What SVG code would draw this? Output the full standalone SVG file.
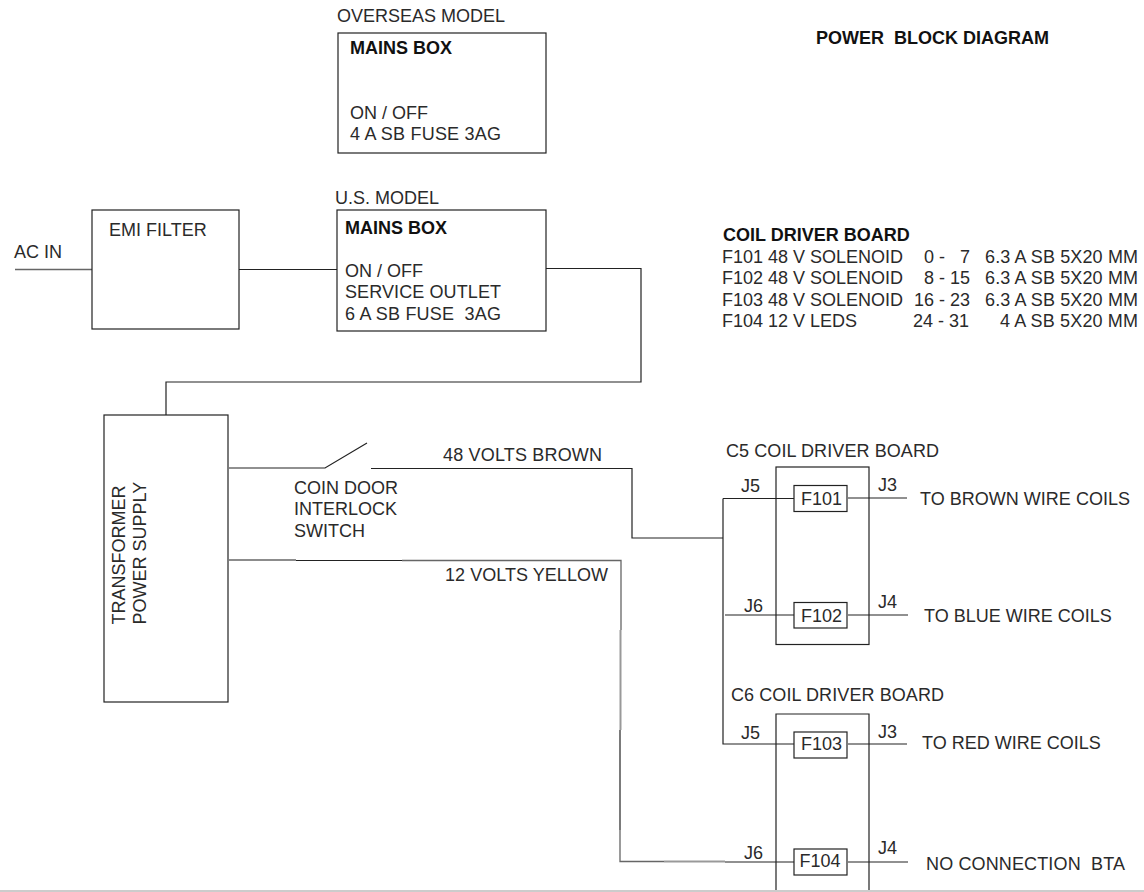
<svg xmlns="http://www.w3.org/2000/svg" width="1144" height="892" viewBox="0 0 1144 892">
<style>
text{font-family:"Liberation Sans",Arial,sans-serif;font-size:18px;fill:#2a2a2a}
.b{font-weight:bold;fill:#111}
.box{fill:#fff;stroke:#222;stroke-width:1.2}
.w{fill:none;stroke:#222;stroke-width:1.2}
.m{fill:none;stroke:#666;stroke-width:1.3}
.g{fill:none;stroke:#999;stroke-width:2}
</style>
<rect width="1144" height="892" fill="#fff"/>
<g id="connectors">
<path class="m" d="M15 269.500H92"/>
<path class="w" d="M239 269.500H337M546 268.500H641V382H166V415"/>
<path class="w" d="M229 468H325L367 443M371 468.500H632V538H723"/>
<path class="w" d="M723 498.500V744H795M723 498.500H795M725 615H795"/>
<path class="m" d="M229 560H296"/><path class="w" d="M296 560.500H402"/><path class="m" d="M402 560.500H621V630"/>
<path class="g" d="M620.500 630V730"/><path class="w" d="M620 730V830"/><path class="m" d="M620 830V861.500H664"/><path class="g" d="M664 861.500H725"/><path class="w" d="M725 862H795"/>
<path class="w" d="M848 498H907M848 615H908M848 744H907M848 862H908"/>
</g>
<g id="title"><text class="b" x="816" y="44" xml:space="preserve">POWER  BLOCK DIAGRAM</text></g>
<g id="overseas-mains"><text x="337" y="22">OVERSEAS MODEL</text><rect class="box" x="338" y="33" width="208" height="120"/><text class="b" x="350" y="54">MAINS BOX</text><text x="350" y="119">ON / OFF</text><text x="350" y="140" textLength="151">4 A SB FUSE 3AG</text></g>
<g id="emi-filter"><rect class="box" x="92" y="210" width="147" height="119"/><text x="109" y="236">EMI FILTER</text></g>
<g id="ac-in"><text x="14" y="258">AC IN</text></g>
<g id="us-mains"><text x="335" y="204">U.S. MODEL</text><rect class="box" x="337" y="210" width="209" height="121"/><text class="b" x="345" y="234">MAINS BOX</text><text x="345" y="277">ON / OFF</text><text x="345" y="298" textLength="156">SERVICE OUTLET</text><text x="345" y="320" xml:space="preserve" textLength="156">6 A SB FUSE  3AG</text></g>
<g id="fuse-table"><text class="b" x="723" y="241">COIL DRIVER BOARD</text>
<text x="722" y="263">F101 48 V SOLENOID</text><text x="924" y="263" xml:space="preserve">0 -   7</text><text x="985" y="263" textLength="153">6.3 A SB 5X20 MM</text>
<text x="722" y="284">F102 48 V SOLENOID</text><text x="924" y="284" xml:space="preserve">8 - 15</text><text x="985" y="284" textLength="153">6.3 A SB 5X20 MM</text>
<text x="722" y="306">F103 48 V SOLENOID</text><text x="914" y="306">16 - 23</text><text x="985" y="306" textLength="153">6.3 A SB 5X20 MM</text>
<text x="722" y="327">F104 12 V LEDS</text><text x="913" y="327">24 - 31</text><text x="1000" y="327" textLength="138">4 A SB 5X20 MM</text></g>
<g id="transformer"><rect class="box" x="104" y="415" width="124" height="287"/><text transform="translate(125 624.500) rotate(-90)">TRANSFORMER</text><text transform="translate(146 624.500) rotate(-90)">POWER SUPPLY</text></g>
<g id="switch"><text x="294" y="494">COIN DOOR</text><text x="294" y="515">INTERLOCK</text><text x="294" y="537">SWITCH</text></g>
<g id="wire-labels"><text x="443" y="461" textLength="159">48 VOLTS BROWN</text><text x="445" y="581" textLength="163">12 VOLTS YELLOW</text></g>
<g id="c5"><text x="726" y="457" textLength="213">C5 COIL DRIVER BOARD</text><rect class="w" x="776" y="467" width="93" height="177.500"/></g>
<g id="c6"><text x="731" y="701" textLength="213">C6 COIL DRIVER BOARD</text><path class="w" d="M776 891V714H869V891"/></g>
<g id="f101"><rect class="box" x="794" y="485.500" width="53" height="26"/><text x="801" y="505">F101</text></g>
<g id="f102"><rect class="box" x="794" y="602.500" width="53" height="25.500"/><text x="801" y="622">F102</text></g>
<g id="f103"><rect class="box" x="794" y="732" width="53" height="26"/><text x="801" y="750">F103</text></g>
<g id="f104"><rect class="box" x="794" y="849" width="53" height="26"/><text x="799.500" y="867">F104</text></g>
<g id="pins"><text x="741" y="492">J5</text><text x="878" y="491">J3</text><text x="744" y="612">J6</text><text x="878" y="608">J4</text><text x="741" y="739">J5</text><text x="878" y="738">J3</text><text x="744" y="859">J6</text><text x="878" y="854">J4</text></g>
<g id="outputs"><text x="920" y="505" textLength="210">TO BROWN WIRE COILS</text><text x="924" y="622">TO BLUE WIRE COILS</text><text x="922" y="749">TO RED WIRE COILS</text><text x="926" y="870" xml:space="preserve" textLength="199">NO CONNECTION  BTA</text></g>
<path d="M0 891H1144" stroke="#ccc" stroke-width="2" fill="none"/>
</svg>
